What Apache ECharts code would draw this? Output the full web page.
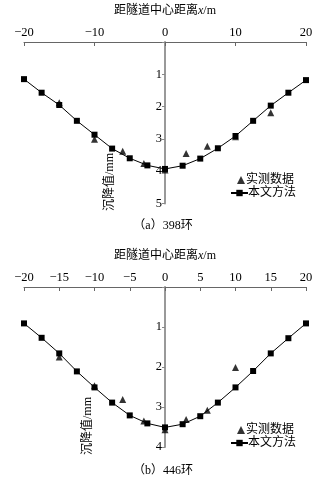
<!DOCTYPE html>
<html>
<head>
<meta charset="utf-8">
<script src="https://cdn.jsdelivr.net/npm/echarts@6/dist/echarts.min.js"></script>
<style>html,body{margin:0;padding:0;background:#fff}#c{width:326px;height:485px}</style>
</head>
<body>
<div id="c"></div>
<script>
// ---- data ----
const methodX = [-20, -17.5, -15, -12.5, -10, -7.5, -5, -2.5, 0, 2.5, 5, 7.5, 10, 12.5, 15, 17.5, 20];
const methodA = [1.15, 1.57, 1.95, 2.44, 2.87, 3.30, 3.60, 3.82, 3.93, 3.83, 3.61, 3.29, 2.91, 2.44, 1.97, 1.57, 1.18];
const measuredXA = [-15, -10, -6, -3, 0, 3, 6, 10, 15];
const measuredA = [1.88, 3.01, 3.38, 3.76, 3.96, 3.45, 3.23, 2.93, 2.19];
const methodB = [0.91, 1.27, 1.66, 2.11, 2.51, 2.89, 3.21, 3.41, 3.51, 3.43, 3.23, 2.89, 2.51, 2.10, 1.66, 1.28, 0.91];
const measuredXB = [-15, -10, -6, -3, 0, 3, 6, 10];
const measuredB = [1.75, 2.47, 2.81, 3.35, 3.57, 3.31, 3.08, 2.01];
const xTicksA = 10, xTicksB = 5;
const yMaxA = 5, yMaxB = 4;
const xName = '距隧道中心距离{i|x}/m';
const yName = '沉降值/mm';
const legendNames = ['实测数据', '本文方法'];
const captions = ['（a）398环', '（b）446环'];

const FONT = '"Liberation Serif", "Noto Sans CJK SC", serif';
const pair = (xs, ys) => xs.map((x, i) => [x, ys[i]]);
const GRID_LEFT = 24, GRID_RIGHT = 20;

function xAxis(gi, interval) {
  return {
    type: 'value', gridIndex: gi, position: 'top', min: -20, max: 20, interval: interval,
    name: xName, nameLocation: 'middle', nameGap: 25,
    nameTextStyle: { fontFamily: FONT, fontSize: 12, color: '#000',
      rich: { i: { fontFamily: FONT, fontSize: 12, fontStyle: 'italic', color: '#000' } } },
    axisLine: { onZero: false, lineStyle: { color: '#666', width: 1 } },
    axisTick: { inside: true, length: 4, lineStyle: { color: '#666' } },
    axisLabel: { margin: 3, fontFamily: FONT, fontSize: 12.5, color: '#000',
      formatter: v => String(v).replace('-', '−') },
    splitLine: { show: false }
  };
}
function yAxis(gi, max) {
  return {
    type: 'value', gridIndex: gi, inverse: true, min: 0, max: max, interval: 1,
    position: 'left', offset: 0,
    axisLine: { onZero: false, lineStyle: { color: '#999', width: 2 } },
    axisTick: { inside: false, length: 3, lineStyle: { color: '#888' } },
    axisLabel: { margin: 3, fontFamily: FONT, fontSize: 12.5, color: '#000',
      formatter: v => v === 0 ? '' : String(v) },
    splitLine: { show: false }
  };
}
function lineSeries(ai, data) {
  return { name: legendNames[1], type: 'line', xAxisIndex: ai, yAxisIndex: ai, data: data,
    symbol: 'rect', symbolSize: 6, itemStyle: { color: '#000' },
    lineStyle: { color: '#000', width: 1 }, z: 3, animation: false };
}
function scatterSeries(ai, data) {
  return { name: legendNames[0], type: 'scatter', xAxisIndex: ai, yAxisIndex: ai, data: data,
    symbol: 'triangle', symbolSize: 7, itemStyle: { color: '#000' }, z: 2, animation: false };
}
function legends(top) {
  const ts = { fontFamily: FONT, fontSize: 12, color: '#000' };
  return [
    { orient: 'vertical', left: 232, top: top, itemWidth: 8, itemHeight: 8,
      textStyle: Object.assign({ padding: [0, 0, 0, -4] }, ts),
      data: [{ name: legendNames[0], icon: 'triangle', itemStyle: { color: '#000' } }], selectedMode: false },
    { orient: 'vertical', left: 225, top: top + 13, itemWidth: 17, itemHeight: 8,
      textStyle: Object.assign({ padding: [0, 0, 0, -5] }, ts),
      data: [{ name: legendNames[1] }], selectedMode: false }
  ];
}

const chart = echarts.init(document.getElementById('c'), null, { renderer: 'canvas' });
const option = {
  animation: false,
  grid: [
    { left: GRID_LEFT, right: GRID_RIGHT, top: 42, height: 161.5 },
    { left: GRID_LEFT, right: GRID_RIGHT, top: 287, height: 160 }
  ],
  xAxis: [xAxis(0, xTicksA), xAxis(1, xTicksB)],
  yAxis: [yAxis(0, yMaxA), yAxis(1, yMaxB)],
  legend: legends(169).concat(legends(419)),
  series: [
    scatterSeries(0, pair(measuredXA, measuredA)),
    lineSeries(0, pair(methodX, methodA)),
    scatterSeries(1, pair(measuredXB, measuredB)),
    lineSeries(1, pair(methodX, methodB))
  ],
  graphic: [
    { type: 'text', x: 110, y: 182, rotation: Math.PI / 2, style: { text: yName, font: '12px ' + FONT, fill: '#000', align: 'center', verticalAlign: 'middle' } },
    { type: 'text', x: 88, y: 426, rotation: Math.PI / 2, style: { text: yName, font: '12px ' + FONT, fill: '#000', align: 'center', verticalAlign: 'middle' } },
    { type: 'text', x: 163, y: 226, style: { text: captions[0], font: '12px ' + FONT, fill: '#000', align: 'center', verticalAlign: 'middle' } },
    { type: 'text', x: 163, y: 471, style: { text: captions[1], font: '12px ' + FONT, fill: '#000', align: 'center', verticalAlign: 'middle' } }
  ]
};
chart.setOption(option);
// place each y axis line at x = 0 of its x axis (library scale)
const off0 = chart.convertToPixel({ xAxisIndex: 0 }, 0) - GRID_LEFT;
const off1 = chart.convertToPixel({ xAxisIndex: 1 }, 0) - GRID_LEFT;
chart.setOption({ yAxis: [{ offset: -off0 }, { offset: -off1 }] });
</script>
</body>
</html>
